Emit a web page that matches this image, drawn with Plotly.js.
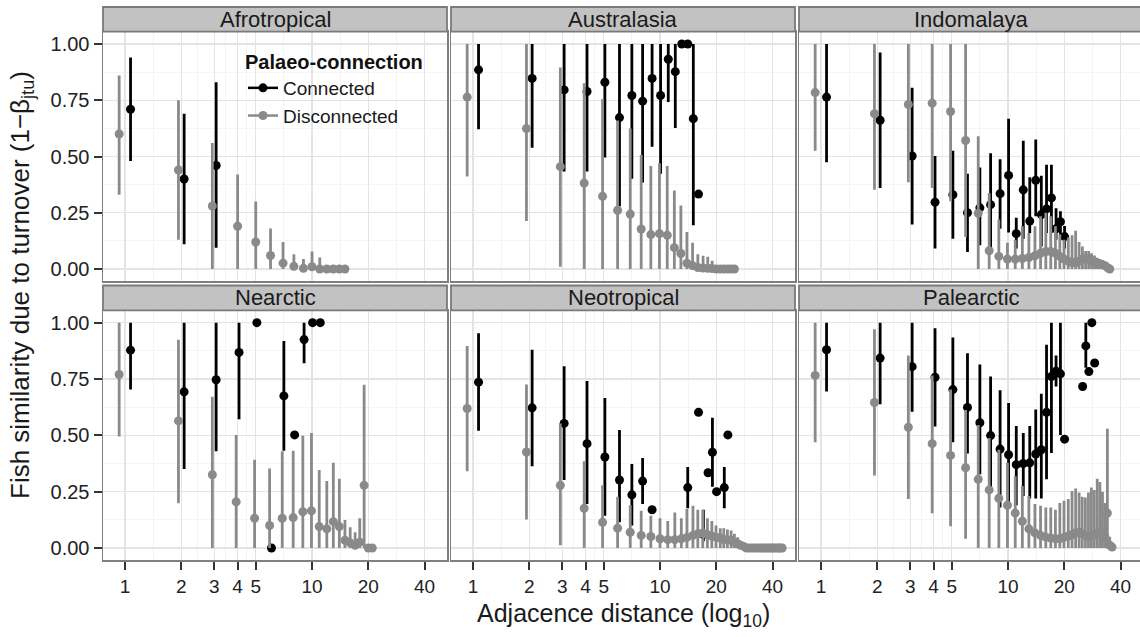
<!DOCTYPE html>
<html><head><meta charset="utf-8">
<script src="https://cdn.plot.ly/plotly-3.0.1.min.js"></script>
<style>html,body{margin:0;padding:0;overflow:hidden;background:#fff}#chart{width:1144px;height:637px}</style>
</head><body><div id="chart"></div>
<script>
// ---------- DATA ----------
const regionNames = ['Afrotropical','Australasia','Indomalaya','Nearctic','Neotropical','Palearctic'];
const seriesNames = ['Connected','Disconnected'];
const xTickVals = [1,2,3,4,5,10,20,40];
const xTickText = ['1','2','3','4','5','10','20','40'];
const xMinorVals = [1.414,2.449,3.464,4.472,7.071,14.142,28.284];
const yTickVals = [0,0.25,0.5,0.75,1];
const yTickText = ['0.00','0.25','0.50','0.75','1.00'];
const yMinorVals = [0.125,0.375,0.625,0.875];

// Afrotropical
const afroConDist = [1,2,3];
const afroConMean = [0.71,0.40,0.46];
const afroConLo   = [0.48,0.11,0.095];
const afroConHi   = [0.94,0.69,0.83];
const afroDisDist = [1,2,3,4,5,6,7,8,9,10,11,12,13,14,15];
const afroDisMean = [0.60,0.44,0.28,0.19,0.12,0.06,0.026,0.012,0.003,0.01,0,0,0,0,0];
const afroDisLo   = [0.33,0.13,0,0,0,0,0,0,0,0,0,0,0,0,0];
const afroDisHi   = [0.86,0.75,0.56,0.42,0.30,0.18,0.12,0.066,0.044,0.078,0.051,0,0,0,0];

// Australasia
const ausConDist = [1,2,3,4,5,6,7,8,9,10,11,12,13,14,15,16];
const ausConMean = [0.885,0.847,0.796,0.789,0.830,0.673,0.771,0.746,0.847,0.771,0.932,0.877,1.0,1.0,0.668,0.333];
const ausConLo   = [0.621,0.539,0.433,0.433,0.496,0.279,0.401,0.385,0.543,0.423,0.742,0.627,1.0,1.0,0.195,0.333];
const ausConHi   = [1,1,1,1,1,1,1,1,1,1,1,1,1,1,1,0.333];
const ausDisDist = [1,2,3,4,5,6,7,8,9,10,11,12,13,14,15,16,17,18,19,20,21,22,23,24,25];
const ausDisMean = [0.764,0.624,0.455,0.382,0.323,0.261,0.244,0.178,0.153,0.157,0.150,0.095,0.069,0.026,0.015,0.007,0.004,0.003,0.002,0,0,0,0,0,0];
const ausDisLo   = [0.411,0.213,0.01,0,0,0,0,0,0,0,0,0,0,0,0,0,0,0,0,0,0,0,0,0,0];
const ausDisHi   = [1,1,0.896,0.825,0.756,0.66,0.624,0.507,0.458,0.470,0.458,0.349,0.282,0.164,0.117,0.066,0.059,0.054,0.037,0,0,0,0,0,0];

// Indomalaya
const indConDist = [1,2,3,4,5,6,7,8,9,10,11,12,13,14,15,16,17,18,19,20];
const indConMean = [0.764,0.661,0.502,0.297,0.330,0.250,0.272,0.286,0.335,0.416,0.157,0.352,0.213,0.394,0.242,0.267,0.316,0.179,0.210,0.144];
const indConLo   = [0.474,0.360,0.198,0.091,0.135,0.076,0.106,0.088,0.179,0.162,0.091,0.135,0.16,0.235,0.10,0.16,0.16,0.13,0.13,0.091];
const indConHi   = [1.0,0.962,0.805,0.502,0.526,0.423,0.451,0.514,0.488,0.668,0.228,0.570,0.408,0.576,0.414,0.463,0.463,0.27,0.257,0.191];
const indDisDist = [1,2,3,4,5,6,7,8,9,10,11,12,13,14,15,16,17,18,19,20,21,22,23,24,25,26,27,28,29,30,31,32,33,34,35];
const indDisMean = [0.784,0.690,0.731,0.737,0.700,0.571,0.247,0.081,0.056,0.044,0.044,0.047,0.051,0.059,0.070,0.078,0.078,0.070,0.056,0.044,0.035,0.029,0.029,0.035,0.044,0.047,0.044,0.037,0.029,0.022,0.022,0.019,0.015,0.006,0.0];
const indDisLo   = [0.526,0.352,0.386,0.360,0.301,0.142,0,0,0,0,0,0,0,0,0,0,0,0,0,0,0,0,0,0,0,0,0,0,0,0,0,0,0,0,0];
const indDisHi   = [1,1,1,1,1,1,0.590,0.338,0.22,0.117,0.13,0.19,0.16,0.19,0.235,0.25,0.235,0.19,0.154,0.13,0.14,0.15,0.17,0.12,0.10,0.08,0.08,0.07,0.06,0.05,0.045,0.04,0.03,0.02,0.0];

// Nearctic
const nearConDist = [1,2,3,4,5,6,7,8,9,10,11];
const nearConMean = [0.878,0.693,0.747,0.868,1.0,0.0,0.675,0.502,0.925,1.0,1.0];
const nearConLo   = [0.703,0.351,0.429,0.571,1.0,0.0,0.432,0.502,0.820,1.0,1.0];
const nearConHi   = [1,1,1,1,1,0,0.919,0.502,1,1,1];
const nearDisDist = [1,2,3,4,5,6,7,8,9,10,11,12,13,14,15,16,17,18,19,20,21];
const nearDisMean = [0.770,0.564,0.325,0.205,0.132,0.100,0.132,0.135,0.161,0.165,0.095,0.085,0.117,0.095,0.034,0.023,0.012,0.026,0.278,0,0];
const nearDisLo   = [0.495,0.199,0,0,0,0,0,0,0,0,0,0,0,0,0,0,0,0,0,0,0];
const nearDisHi   = [1.0,0.924,0.671,0.502,0.392,0.353,0.429,0.432,0.498,0.510,0.346,0.297,0.378,0.307,0.124,0.092,0.07,0.132,0.725,0,0];

// Neotropical
const neoConDist = [1,2,3,4,5,6,7,8,9,14,16,17,18,19,20,22,23];
const neoConMean = [0.736,0.622,0.553,0.463,0.404,0.302,0.236,0.297,0.170,0.268,0.602,0.06,0.334,0.425,0.250,0.268,0.502];
const neoConLo   = [0.520,0.363,0.302,0.195,0.143,0.114,0.10,0.195,0.170,0.176,0.602,0.03,0.334,0.272,0.250,0.176,0.502];
const neoConHi   = [0.953,0.880,0.807,0.741,0.666,0.524,0.373,0.40,0.170,0.36,0.602,0.17,0.334,0.578,0.250,0.36,0.502];
const neoDisDist = [1,2,3,4,5,6,7,8,9,10,11,12,13,14,15,16,17,18,19,20,21,22,23,24,25,26,27,28,29,30,31,32,33,34,35,36,37,38,39,40,41,42,43,44,45];
const neoDisMean = [0.619,0.426,0.278,0.176,0.114,0.088,0.070,0.056,0.051,0.041,0.037,0.037,0.041,0.047,0.056,0.063,0.067,0.059,0.053,0.048,0.044,0.038,0.037,0.034,0.026,0.019,0.012,0.007,0,0,0,0,0,0,0,0,0,0,0,0,0,0,0,0,0];
const neoDisLo   = [0.341,0.126,0.012,0,0,0,0,0,0,0,0,0,0,0,0,0,0,0,0,0,0,0,0,0,0,0,0,0,0,0,0,0,0,0,0,0,0,0,0,0,0,0,0,0,0];
const neoDisHi   = [0.897,0.726,0.553,0.385,0.278,0.228,0.19,0.165,0.143,0.132,0.12,0.158,0.132,0.173,0.187,0.17,0.17,0.132,0.12,0.10,0.088,0.088,0.082,0.078,0.063,0.048,0.03,0.02,0,0,0,0,0,0,0,0,0,0,0,0,0,0,0,0,0];

// Palearctic
const palConDist = [1,2,3,4,5,6,7,8,9,10,11,12,13,14,15,16,17,18,19,20,25,26,27,28,29];
const palConMean = [0.880,0.843,0.805,0.758,0.703,0.624,0.556,0.499,0.439,0.414,0.370,0.375,0.378,0.417,0.436,0.602,0.761,0.785,0.773,0.483,0.717,0.897,0.783,1.0,0.821];
const palConLo   = [0.695,0.638,0.605,0.539,0.469,0.419,0.327,0.246,0.18,0.187,0.19,0.231,0.22,0.22,0.22,0.305,0.422,0.717,0.502,0.483,0.717,0.80,0.783,1.0,0.821];
const palConHi   = [1,1,1,0.975,0.934,0.864,0.814,0.761,0.700,0.644,0.542,0.51,0.542,0.615,0.685,0.902,1.0,0.854,1.0,0.483,0.717,1.0,0.783,1.0,0.821];
const palDisDist = [1,2,3,4,5,6,7,8,9,10,11,12,13,14,15,16,17,18,19,20,21,22,23,24,25,26,27,28,29,30,31,32,33,34,35,36];
const palDisMean = [0.766,0.646,0.536,0.463,0.411,0.356,0.305,0.258,0.221,0.190,0.155,0.119,0.085,0.067,0.056,0.048,0.044,0.041,0.041,0.047,0.053,0.059,0.067,0.070,0.063,0.056,0.053,0.056,0.059,0.066,0.070,0.059,0.048,0.155,0.012,0.004];
const palDisLo   = [0.469,0.322,0.217,0.154,0.097,0.041,0,0,0,0,0,0,0,0,0,0,0,0,0,0,0,0,0,0,0,0,0,0,0,0,0,0,0,0,0,0];
const palDisHi   = [1.0,0.971,0.854,0.766,0.703,0.612,0.546,0.488,0.436,0.378,0.319,0.275,0.231,0.195,0.187,0.18,0.18,0.17,0.20,0.21,0.217,0.253,0.264,0.246,0.228,0.224,0.246,0.268,0.258,0.307,0.293,0.25,0.2,0.529,0.05,0.02];

// ---------- ASSEMBLY ----------
const panels = [
  {con:[afroConDist,afroConMean,afroConLo,afroConHi], dis:[afroDisDist,afroDisMean,afroDisLo,afroDisHi]},
  {con:[ausConDist,ausConMean,ausConLo,ausConHi],     dis:[ausDisDist,ausDisMean,ausDisLo,ausDisHi]},
  {con:[indConDist,indConMean,indConLo,indConHi],     dis:[indDisDist,indDisMean,indDisLo,indDisHi]},
  {con:[nearConDist,nearConMean,nearConLo,nearConHi], dis:[nearDisDist,nearDisMean,nearDisLo,nearDisHi]},
  {con:[neoConDist,neoConMean,neoConLo,neoConHi],     dis:[neoDisDist,neoDisMean,neoDisLo,neoDisHi]},
  {con:[palConDist,palConMean,palConLo,palConHi],     dis:[palDisDist,palDisMean,palDisLo,palDisHi]}
];

const W = 1144, H = 637;
const colPx = [[103,447],[451,795],[799,1143]];
const rowPx = [[31.6,281.4],[310.3,560.4]];
const stripPx = [[7,31.6],[285.5,310.3]];
const DODGE = 0.07;
const colors = {Connected:'#000000', Disconnected:'#8a8a8a'};
const FONT = 'Liberation Sans, Arial, Helvetica, sans-serif';

const traces = [];
const layout = {
  width: W, height: H, margin:{l:0,r:0,t:0,b:0},
  paper_bgcolor:'#ffffff', plot_bgcolor:'#ffffff',
  font:{family:FONT, color:'#1a1a1a'},
  showlegend:true,
  legend:{x:243/W, y:1-43/H, xanchor:'left', yanchor:'top', bgcolor:'rgba(0,0,0,0)',
    font:{size:19, family:FONT, color:'#1a1a1a'}, itemwidth:30, tracegroupgap:0,
    title:{text:'<b>Palaeo-connection</b>', font:{size:20, family:FONT, color:'#111'}}},
  shapes:[], annotations:[]
};

function errArrays(mean, lo, hi){
  return {
    plus: hi.map((h,i)=>Math.max(0,h-mean[i])),
    minus: lo.map((l,i)=>Math.max(0,mean[i]-l))
  };
}

panels.forEach((p, i) => {
  const r = Math.floor(i/3), c = i%3;
  const ax = i===0 ? '' : String(i+1);
  const conSet = new Set(p.con[0]);
  const disSet = new Set(p.dis[0]);
  [['Connected', p.con, +1, disSet], ['Disconnected', p.dis, -1, conSet]].forEach(([name, s, sign, other]) => {
    const e = errArrays(s[1], s[2], s[3]);
    traces.push({
      type:'scatter', mode:'markers', name:name, showlegend:false,
      x: s[0].map(d => d + (other.has(d) ? sign*DODGE : 0)),
      y: s[1],
      xaxis:'x'+ax, yaxis:'y'+ax,
      marker:{size:9, color:colors[name], line:{width:0}},
      error_y:{type:'data', symmetric:false, array:e.plus, arrayminus:e.minus,
               color:colors[name], thickness:2.8, width:0},
      cliponaxis:false, hoverinfo:'x+y'
    });
  });
  const bottom = r===1, left = c===0;
  layout['xaxis'+ax] = {
    type:'log', range:[-0.118,1.722],
    domain:[colPx[c][0]/W, colPx[c][1]/W], anchor:'y'+ax,
    tickmode:'array', tickvals:xTickVals, ticktext:xTickText,
    showticklabels:bottom, ticks: bottom?'outside':'', ticklen:8, tickwidth:2, tickcolor:'#333',
    tickfont:{size:19, color:'#222', family:FONT},
    showgrid:true, gridcolor:'#e4e4e4', gridwidth:1.3,
    minor:{tickmode:'array', tickvals:xMinorVals, showgrid:true, gridcolor:'#f4f4f4', gridwidth:1, ticks:''},
    showline:true, mirror:true, linecolor:'#7f7f7f', linewidth:1.5, zeroline:false
  };
  layout['yaxis'+ax] = {
    range:[-0.055,1.055],
    domain:[1-rowPx[r][1]/H, 1-rowPx[r][0]/H], anchor:'x'+ax,
    tickmode:'array', tickvals:yTickVals, ticktext:yTickText,
    showticklabels:left, ticks: left?'outside':'', ticklen:8, tickwidth:2, tickcolor:'#333',
    tickfont:{size:20, color:'#222', family:FONT},
    showgrid:true, gridcolor:'#e4e4e4', gridwidth:1.3,
    minor:{tickmode:'array', tickvals:yMinorVals, showgrid:true, gridcolor:'#f4f4f4', gridwidth:1, ticks:''},
    showline:true, mirror:true, linecolor:'#7f7f7f', linewidth:1.5, zeroline:false
  };
  // strip
  layout.shapes.push({type:'rect', xref:'paper', yref:'paper',
    x0:colPx[c][0]/W, x1:colPx[c][1]/W, y0:1-stripPx[r][1]/H, y1:1-stripPx[r][0]/H,
    fillcolor:'#c2c2c2', line:{color:'#7a7a7a', width:1.8}, layer:'above'});
  layout.annotations.push({xref:'paper', yref:'paper', showarrow:false,
    x:(colPx[c][0]+colPx[c][1])/2/W, y:1-(stripPx[r][0]+stripPx[r][1])/2/H,
    xanchor:'center', yanchor:'middle', text:regionNames[i],
    font:{size:22, color:'#1a1a1a', family:FONT}});
});

// legend-only entries (key glyphs)
seriesNames.forEach(name => {
  traces.push({type:'scatter', mode:'lines+markers', name:name, x:[null], y:[null],
    xaxis:'x', yaxis:'y', showlegend:true,
    line:{color:colors[name], width:2.5}, marker:{size:9, color:colors[name]}});
});

// global axis titles
layout.annotations.push({xref:'paper', yref:'paper', showarrow:false,
  x:623/W, y:1-615/H, xanchor:'center', yanchor:'middle',
  text:'Adjacence distance (log<sub>10</sub>)', font:{size:25, color:'#1a1a1a', family:FONT}});
layout.annotations.push({xref:'paper', yref:'paper', showarrow:false,
  x:22/W, y:1-285/H, xanchor:'center', yanchor:'middle', textangle:-90,
  text:'Fish similarity due to turnover (1\u2212\u03b2<sub>jtu</sub>)', font:{size:26, color:'#1a1a1a', family:FONT}});

Plotly.newPlot('chart', traces, layout, {staticPlot:true, displayModeBar:false});
</script></body></html>
